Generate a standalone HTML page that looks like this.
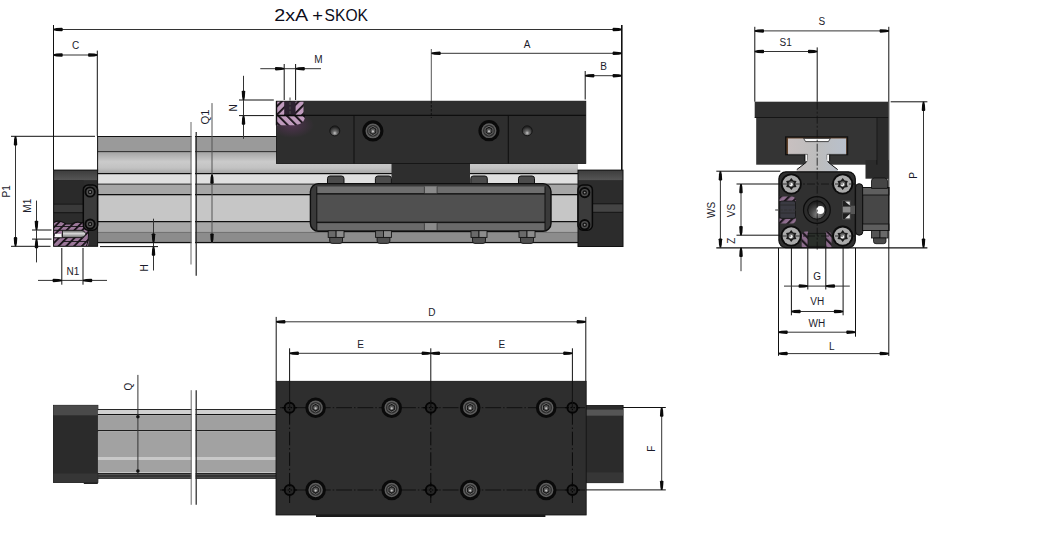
<!DOCTYPE html>
<html><head><meta charset="utf-8"><style>
html,body{margin:0;padding:0;background:#fff;}
body{width:1042px;height:534px;overflow:hidden;}
svg{display:block;font-family:"Liberation Sans",sans-serif;}
</style></head><body>
<svg width="1042" height="534" viewBox="0 0 1042 534">
<defs>
<pattern id="hat" patternUnits="userSpaceOnUse" width="6" height="6" patternTransform="rotate(45)">
<rect width="6" height="6" fill="#bf9bbd"/><rect width="1.9" height="6" fill="#1a121a"/></pattern>
<pattern id="hat2" patternUnits="userSpaceOnUse" width="6" height="6" patternTransform="rotate(-45)">
<rect width="6" height="6" fill="#bf9bbd"/><rect width="1.9" height="6" fill="#1a121a"/></pattern>
<radialGradient id="holeG" cx="0.5" cy="0.72" r="0.6"><stop offset="0" stop-color="#c8c8c8"/><stop offset="0.35" stop-color="#6a6a6a"/><stop offset="1" stop-color="#222"/></radialGradient>
<radialGradient id="coneG" cx="0.55" cy="0.75" r="0.75"><stop offset="0" stop-color="#8a8a8a"/><stop offset="0.45" stop-color="#4a4a4a"/><stop offset="1" stop-color="#161616"/></radialGradient>
<pattern id="hat4" patternUnits="userSpaceOnUse" width="6" height="6" patternTransform="rotate(45)">
<rect width="6" height="6" fill="#8e6e8e"/><rect width="2.2" height="6" fill="#201820"/></pattern>
<pattern id="hat5" patternUnits="userSpaceOnUse" width="6" height="6" patternTransform="rotate(-45)">
<rect width="6" height="6" fill="#8e6e8e"/><rect width="2.2" height="6" fill="#201820"/></pattern>
<pattern id="hat3" patternUnits="userSpaceOnUse" width="5.5" height="5.5" patternTransform="rotate(45)">
<rect width="5.5" height="5.5" fill="#9c789a"/><rect width="1.8" height="5.5" fill="#1a121a"/></pattern>
<linearGradient id="boreG" x1="0" y1="0" x2="0" y2="1"><stop offset="0" stop-color="#555"/><stop offset="0.45" stop-color="#d8d8d8"/><stop offset="1" stop-color="#6a6a6a"/></linearGradient>
<linearGradient id="band2" x1="0" y1="0" x2="0" y2="1"><stop offset="0" stop-color="#a6a6a6"/><stop offset="0.45" stop-color="#cbcbcb"/><stop offset="0.75" stop-color="#c2c2c2"/><stop offset="1" stop-color="#a8a8a8"/></linearGradient>
<linearGradient id="tG" x1="0" y1="0" x2="1" y2="0"><stop offset="0" stop-color="#c8c0c0"/><stop offset="0.5" stop-color="#bdbdbd"/><stop offset="1" stop-color="#b8c0cc"/></linearGradient>
<radialGradient id="glow"><stop offset="0" stop-color="#7a3a7a" stop-opacity="0.45"/><stop offset="1" stop-color="#7a3a7a" stop-opacity="0"/></radialGradient>
<clipPath id="carClip"><rect x="277" y="101.2" width="308" height="62"/></clipPath>
<linearGradient id="capTop" x1="0" y1="0" x2="0" y2="1"><stop offset="0" stop-color="#3c3c3c"/><stop offset="1" stop-color="#555"/></linearGradient>
</defs>
<rect width="1042" height="534" fill="#fff"/>
<rect x="97.5" y="136.0" width="480.5" height="1.0" fill="#111" />
<rect x="97.5" y="137" width="480.5" height="14.2" fill="#9a9a9a" />
<rect x="97.5" y="151.2" width="480.5" height="1.3" fill="#0e0e0e" />
<rect x="97.5" y="152.5" width="480.5" height="20.5" fill="url(#band2)" />
<rect x="97.5" y="173.0" width="480.5" height="1.5" fill="#0e0e0e" />
<rect x="97.5" y="174.5" width="480.5" height="9.1" fill="#e0e0e0" />
<rect x="97.5" y="183.6" width="480.5" height="1.2" fill="#1a1a1a" />
<rect x="97.5" y="184.8" width="480.5" height="9.2" fill="#a6a6a6" />
<rect x="97.5" y="194.0" width="480.5" height="1.6" fill="#0e0e0e" />
<rect x="97.5" y="195.6" width="480.5" height="25.4" fill="#c6c6c6" />
<rect x="97.5" y="221.0" width="480.5" height="1.6" fill="#0e0e0e" />
<rect x="97.5" y="222.6" width="480.5" height="9.2" fill="#a6a6a6" />
<rect x="97.5" y="231.8" width="480.5" height="1.0" fill="#4a4a4a" />
<rect x="97.5" y="232.8" width="480.5" height="9.0" fill="#8c8c8c" />
<rect x="97.5" y="241.8" width="480.5" height="1.4" fill="#0e0e0e" />
<line x1="97.6" y1="136" x2="97.6" y2="171" stroke="#111" stroke-width="1" />
<rect x="191.6" y="120" width="3.4" height="160" fill="#fff" />
<line x1="191.0" y1="122" x2="191.0" y2="264.5" stroke="#6a6a6a" stroke-width="1" />
<line x1="196.2" y1="132" x2="196.2" y2="275.7" stroke="#222" stroke-width="1.2" />
<rect x="53.6" y="170.1" width="44" height="76.2" fill="#2c2c2c" />
<rect x="53.6" y="170.1" width="44" height="10" fill="url(#capTop)" />
<rect x="53.6" y="180.1" width="30" height="24" fill="#2a2a2a" />
<line x1="53.6" y1="204.2" x2="83.3" y2="204.2" stroke="#141414" stroke-width="1" />
<rect x="53.6" y="204.7" width="30" height="8" fill="#3a3a3a" />
<line x1="53.6" y1="212.7" x2="83.3" y2="212.7" stroke="#141414" stroke-width="1" />
<path d="M54,246 V222.5 Q57,220.5 61,221.5 Q64,222.5 66,224 L72,224 Q76,221.5 80,222.5 L84,222.5 Q88,226 88.5,236 Q89,242 88,246 Z" fill="url(#hat3)"/>
<path d="M54,222.5 Q57,220.5 61,221.5 Q64,222.5 66,224 L72,224 Q76,221.5 80,222.5 L84,222.5" fill="none" stroke="#111" stroke-width="1.2"/>
<path d="M62.5,230.3 H81 Q84.5,230.3 86,233.9 Q84.5,237.6 81,237.6 H62.5 Z" fill="url(#boreG)" stroke="#151515" stroke-width="0.9"/>
<rect x="54.8" y="233.8" width="6.8" height="3.9" fill="#f6f6f6" />
<line x1="54" y1="230.3" x2="62.5" y2="230.3" stroke="#151515" stroke-width="1" />
<line x1="54" y1="237.8" x2="62.5" y2="237.8" stroke="#151515" stroke-width="1" />
<line x1="54" y1="226.5" x2="84" y2="226.5" stroke="#151515" stroke-width="0.9" />
<line x1="62" y1="241.5" x2="86" y2="241.5" stroke="#151515" stroke-width="0.9" />
<path d="M84,222.5 Q88.5,226 88.6,234 Q88.6,241 86.5,246" fill="none" stroke="#111" stroke-width="1"/>
<rect x="53.6" y="170.1" width="44" height="76.2" fill="none" stroke="#111" stroke-width="1" />
<rect x="83.3" y="184.9" width="14.3" height="45.3" fill="#3b3b3b" stroke="#080808" stroke-width="1.5" rx="5" />
<circle cx="90.1" cy="192" r="5.6" fill="#080808"/>
<circle cx="90.1" cy="192" r="3.6959999999999997" fill="#4e4e4e"/>
<circle cx="90.1" cy="192" r="2.2399999999999998" fill="#121212"/>
<circle cx="90.1" cy="192" r="0.952" fill="#8a8a8a"/>
<circle cx="90.1" cy="224.1" r="5.6" fill="#080808"/>
<circle cx="90.1" cy="224.1" r="3.6959999999999997" fill="#4e4e4e"/>
<circle cx="90.1" cy="224.1" r="2.2399999999999998" fill="#121212"/>
<circle cx="90.1" cy="224.1" r="0.952" fill="#8a8a8a"/>
<rect x="578" y="170.1" width="45" height="76.4" fill="#2c2c2c" />
<rect x="578" y="170.1" width="45" height="10" fill="url(#capTop)" />
<rect x="592.4" y="203.8" width="30.6" height="8.5" fill="#444" />
<line x1="592.4" y1="203.8" x2="623" y2="203.8" stroke="#151515" stroke-width="1" />
<line x1="592.4" y1="212.3" x2="623" y2="212.3" stroke="#151515" stroke-width="1" />
<rect x="578" y="170.1" width="45" height="76.4" fill="none" stroke="#111" stroke-width="1" />
<rect x="578" y="184.9" width="14.4" height="45.3" fill="#3b3b3b" stroke="#080808" stroke-width="1.5" rx="5" />
<circle cx="584.7" cy="192.6" r="5.6" fill="#080808"/>
<circle cx="584.7" cy="192.6" r="3.6959999999999997" fill="#4e4e4e"/>
<circle cx="584.7" cy="192.6" r="2.2399999999999998" fill="#121212"/>
<circle cx="584.7" cy="192.6" r="0.952" fill="#8a8a8a"/>
<circle cx="584.7" cy="224.7" r="5.6" fill="#080808"/>
<circle cx="584.7" cy="224.7" r="3.6959999999999997" fill="#4e4e4e"/>
<circle cx="584.7" cy="224.7" r="2.2399999999999998" fill="#121212"/>
<circle cx="584.7" cy="224.7" r="0.952" fill="#8a8a8a"/>
<rect x="276.5" y="101.2" width="309.3" height="62.3" fill="#2e2e2e" />
<rect x="391.5" y="160" width="78.5" height="25.3" fill="#2e2e2e" />
<line x1="276.5" y1="115.3" x2="585.8" y2="115.3" stroke="#0e0e0e" stroke-width="1.2" />
<line x1="354" y1="115.3" x2="354" y2="163.5" stroke="#0e0e0e" stroke-width="1" />
<line x1="508.3" y1="115.3" x2="508.3" y2="163.5" stroke="#0e0e0e" stroke-width="1" />
<ellipse cx="292" cy="125" rx="22" ry="13" fill="url(#glow)" clip-path="url(#carClip)"/>
<path d="M276.5,101.2 H303.5 V115.5 H276.5 Z" fill="url(#hat)"/>
<path d="M276.5,115.5 H305 V116 Q305,125.3 291,125.3 H276.5 Z" fill="url(#hat2)"/>
<rect x="284.2" y="101.2" width="11.4" height="14.2" fill="#2c2230" />
<line x1="290" y1="97.5" x2="290" y2="115" stroke="#4a4a4a" stroke-width="1" stroke-dasharray="3,1.5"/>
<line x1="276.5" y1="115.5" x2="305" y2="115.5" stroke="#0a0a0a" stroke-width="1.6" />
<line x1="276.5" y1="101.2" x2="276.5" y2="125.3" stroke="#0a0a0a" stroke-width="1.4" />
<rect x="276.5" y="101.2" width="309.3" height="62.3" fill="none" stroke="#111" stroke-width="0.8" />
<circle cx="334.8" cy="130.9" r="5" fill="url(#holeG)" stroke="#141414" stroke-width="1"/>
<circle cx="527.2" cy="130.8" r="5" fill="url(#holeG)" stroke="#141414" stroke-width="1"/>
<circle cx="372.9" cy="130.9" r="10.6" fill="#0a0a0a"/>
<circle cx="372.9" cy="130.9" r="7.419999999999999" fill="#5e5e5e"/>
<circle cx="372.9" cy="130.9" r="5.936" fill="#2e2e2e"/>
<polygon points="372.9,135.4 369.0,133.1 369.0,128.7 372.9,126.4 376.8,128.7 376.8,133.1" fill="#151515" stroke="#7a7a7a" stroke-width="0.8"/>
<circle cx="372.9" cy="130.9" r="2.544" fill="#5a5a5a"/>
<circle cx="372.9" cy="131.536" r="1.166" fill="#c0c0c0"/>
<circle cx="489" cy="130.7" r="10.6" fill="#0a0a0a"/>
<circle cx="489" cy="130.7" r="7.419999999999999" fill="#5e5e5e"/>
<circle cx="489" cy="130.7" r="5.936" fill="#2e2e2e"/>
<polygon points="489.0,135.2 485.1,132.9 485.1,128.5 489.0,126.2 492.9,128.5 492.9,132.9" fill="#151515" stroke="#7a7a7a" stroke-width="0.8"/>
<circle cx="489" cy="130.7" r="2.544" fill="#5a5a5a"/>
<circle cx="489" cy="131.33599999999998" r="1.166" fill="#c0c0c0"/>
<path d="M327.5,186 V178.5 Q327.5,176 330.0,176 H341.5 Q344,176 344,178.5 V186 Z" fill="#4c4c4c" stroke="#111" stroke-width="1"/>
<path d="M375.4,186 V178.5 Q375.4,176 377.9,176 H388.9 Q391.4,176 391.4,178.5 V186 Z" fill="#4c4c4c" stroke="#111" stroke-width="1"/>
<path d="M470.8,186 V178.5 Q470.8,176 473.3,176 H484.8 Q487.3,176 487.3,178.5 V186 Z" fill="#4c4c4c" stroke="#111" stroke-width="1"/>
<path d="M518.5,186 V178.5 Q518.5,176 521.0,176 H532.0 Q534.5,176 534.5,178.5 V186 Z" fill="#4c4c4c" stroke="#111" stroke-width="1"/>
<rect x="310.4" y="183.6" width="240.6" height="47.8" fill="#3a3a3a" stroke="#0e0e0e" stroke-width="1.4" rx="8" />
<rect x="316.8" y="186.5" width="228.2" height="6.7" fill="#6e6e6e" />
<rect x="316.8" y="193.2" width="228.2" height="1.5" fill="#151515" />
<rect x="316.8" y="194.7" width="228.2" height="27" fill="#505050" />
<rect x="316.8" y="221.7" width="228.2" height="1.5" fill="#151515" />
<rect x="316.8" y="223.2" width="228.2" height="6.8" fill="#6a6a6a" />
<rect x="424.4" y="186.5" width="12.7" height="6.7" fill="#8a8a8a" />
<rect x="424.4" y="223.2" width="12.7" height="6.8" fill="#8a8a8a" />
<line x1="424.4" y1="186.5" x2="424.4" y2="193.2" stroke="#333" stroke-width="0.8" />
<line x1="437.1" y1="186.5" x2="437.1" y2="193.2" stroke="#333" stroke-width="0.8" />
<line x1="424.4" y1="223.2" x2="424.4" y2="230" stroke="#333" stroke-width="0.8" />
<line x1="437.1" y1="223.2" x2="437.1" y2="230" stroke="#333" stroke-width="0.8" />
<line x1="316.8" y1="186.5" x2="316.8" y2="230" stroke="#111" stroke-width="1" />
<line x1="545" y1="186.5" x2="545" y2="230" stroke="#111" stroke-width="1" />
<path d="M329.7,237.4 V241 Q329.7,243.4 332.2,243.4 H340 Q342.5,243.4 342.5,241 V237.4 Z" fill="#505050" stroke="#151515" stroke-width="0.9"/>
<rect x="328.2" y="230.7" width="7.900000000000034" height="6.7" fill="#6a6a6a" stroke="#151515" stroke-width="0.9" />
<rect x="336.1" y="230.7" width="7.899999999999977" height="6.7" fill="#8c8c8c" stroke="#151515" stroke-width="0.9" />
<path d="M377.1,237.4 V241 Q377.1,243.4 379.6,243.4 H387.4 Q389.9,243.4 389.9,241 V237.4 Z" fill="#505050" stroke="#151515" stroke-width="0.9"/>
<rect x="375.6" y="230.7" width="7.899999999999977" height="6.7" fill="#6a6a6a" stroke="#151515" stroke-width="0.9" />
<rect x="383.5" y="230.7" width="7.899999999999977" height="6.7" fill="#8c8c8c" stroke="#151515" stroke-width="0.9" />
<path d="M472.5,237.4 V241 Q472.5,243.4 475,243.4 H483 Q485.5,243.4 485.5,241 V237.4 Z" fill="#505050" stroke="#151515" stroke-width="0.9"/>
<rect x="471" y="230.7" width="8.0" height="6.7" fill="#6a6a6a" stroke="#151515" stroke-width="0.9" />
<rect x="479.0" y="230.7" width="8.0" height="6.7" fill="#8c8c8c" stroke="#151515" stroke-width="0.9" />
<path d="M520.5,237.4 V241 Q520.5,243.4 523,243.4 H531 Q533.5,243.4 533.5,241 V237.4 Z" fill="#505050" stroke="#151515" stroke-width="0.9"/>
<rect x="519" y="230.7" width="8.0" height="6.7" fill="#6a6a6a" stroke="#151515" stroke-width="0.9" />
<rect x="527.0" y="230.7" width="8.0" height="6.7" fill="#8c8c8c" stroke="#151515" stroke-width="0.9" />
<line x1="53.5" y1="25" x2="53.5" y2="170" stroke="#111" stroke-width="1" />
<line x1="621.8" y1="25" x2="621.8" y2="170" stroke="#111" stroke-width="1.6" />
<line x1="53.5" y1="29.5" x2="621.8" y2="29.5" stroke="#333" stroke-width="1" />
<polygon points="53.50,28.75 56.50,28.10 61.90,27.75 62.70,28.35 62.70,30.65 61.90,31.25 56.50,30.90 53.50,30.25" fill="#0a0a0a"/>
<polygon points="621.80,28.75 618.80,28.10 613.40,27.75 612.60,28.35 612.60,30.65 613.40,31.25 618.80,30.90 621.80,30.25" fill="#0a0a0a"/>
<text x="274.2" y="20.9" font-size="15.6" fill="#0d0d1a" textLength="34" lengthAdjust="spacingAndGlyphs">2xA</text>
<text x="312.2" y="21.2" font-size="16.8" fill="#0d0d1a" textLength="10.8" lengthAdjust="spacingAndGlyphs">+</text>
<text x="324.6" y="20.9" font-size="15.6" fill="#0d0d1a" textLength="43.4" lengthAdjust="spacingAndGlyphs">SKOK</text>
<line x1="97.3" y1="50.6" x2="97.3" y2="136" stroke="#111" stroke-width="1" />
<line x1="53.5" y1="55" x2="97.3" y2="55" stroke="#333" stroke-width="1" />
<polygon points="53.50,54.25 56.50,53.60 61.90,53.25 62.70,53.85 62.70,56.15 61.90,56.75 56.50,56.40 53.50,55.75" fill="#0a0a0a"/>
<polygon points="97.30,54.25 94.30,53.60 88.90,53.25 88.10,53.85 88.10,56.15 88.90,56.75 94.30,56.40 97.30,55.75" fill="#0a0a0a"/>
<text x="75.6" y="45.3" font-size="10" fill="#1b1b2b" text-anchor="middle" dominant-baseline="central" >C</text>
<line x1="431.3" y1="49" x2="431.3" y2="101" stroke="#555" stroke-width="1" />
<line x1="431.3" y1="101" x2="431.3" y2="118" stroke="#111" stroke-width="1" stroke-dasharray="2.5,1.5"/>
<line x1="431.5" y1="53.3" x2="621.8" y2="53.3" stroke="#333" stroke-width="1" />
<polygon points="431.50,52.55 434.50,51.90 439.90,51.55 440.70,52.15 440.70,54.45 439.90,55.05 434.50,54.70 431.50,54.05" fill="#0a0a0a"/>
<polygon points="621.80,52.55 618.80,51.90 613.40,51.55 612.60,52.15 612.60,54.45 613.40,55.05 618.80,54.70 621.80,54.05" fill="#0a0a0a"/>
<text x="527.2" y="44.3" font-size="10" fill="#1b1b2b" text-anchor="middle" dominant-baseline="central" >A</text>
<line x1="585.2" y1="71" x2="585.2" y2="99.5" stroke="#111" stroke-width="1" />
<line x1="585.2" y1="75.7" x2="621.8" y2="75.7" stroke="#333" stroke-width="1" />
<polygon points="585.20,74.95 588.20,74.30 593.60,73.95 594.40,74.55 594.40,76.85 593.60,77.45 588.20,77.10 585.20,76.45" fill="#0a0a0a"/>
<polygon points="621.80,74.95 618.80,74.30 613.40,73.95 612.60,74.55 612.60,76.85 613.40,77.45 618.80,77.10 621.80,76.45" fill="#0a0a0a"/>
<text x="603.6" y="66.3" font-size="10" fill="#1b1b2b" text-anchor="middle" dominant-baseline="central" >B</text>
<line x1="284.2" y1="64" x2="284.2" y2="100" stroke="#111" stroke-width="1" />
<line x1="295.6" y1="64" x2="295.6" y2="100" stroke="#111" stroke-width="1" />
<line x1="260.3" y1="68.7" x2="321" y2="68.7" stroke="#333" stroke-width="1" />
<polygon points="284.20,67.95 281.20,67.30 275.80,66.95 275.00,67.55 275.00,69.85 275.80,70.45 281.20,70.10 284.20,69.45" fill="#0a0a0a"/>
<polygon points="295.60,67.95 298.60,67.30 304.00,66.95 304.80,67.55 304.80,69.85 304.00,70.45 298.60,70.10 295.60,69.45" fill="#0a0a0a"/>
<text x="318.3" y="59.4" font-size="10" fill="#1b1b2b" text-anchor="middle" dominant-baseline="central" >M</text>
<line x1="239" y1="100" x2="273.8" y2="100" stroke="#111" stroke-width="1" />
<line x1="239" y1="115.6" x2="273.8" y2="115.6" stroke="#111" stroke-width="1" />
<line x1="243.5" y1="75.8" x2="243.5" y2="138.8" stroke="#333" stroke-width="1" />
<polygon points="242.75,100.00 242.10,97.00 241.75,91.60 242.35,90.80 244.65,90.80 245.25,91.60 244.90,97.00 244.25,100.00" fill="#0a0a0a"/>
<polygon points="242.75,115.60 242.10,118.60 241.75,124.00 242.35,124.80 244.65,124.80 245.25,124.00 244.90,118.60 244.25,115.60" fill="#0a0a0a"/>
<text x="0" y="0" font-size="10" fill="#1b1b2b" text-anchor="middle" dominant-baseline="central" transform="translate(233.4,107.8) rotate(-90)" >N</text>
<line x1="212" y1="103.1" x2="212" y2="243" stroke="#555" stroke-width="1" />
<polygon points="211.25,174.50 210.60,177.50 210.25,182.90 210.85,183.70 213.15,183.70 213.75,182.90 213.40,177.50 212.75,174.50" fill="#0a0a0a"/>
<polygon points="211.25,242.60 210.60,239.60 210.25,234.20 210.85,233.40 213.15,233.40 213.75,234.20 213.40,239.60 212.75,242.60" fill="#0a0a0a"/>
<text x="0" y="0" font-size="10.6" fill="#1b1b2b" text-anchor="middle" dominant-baseline="central" transform="translate(204.6,117.1) rotate(-90)"  textLength="15" lengthAdjust="spacingAndGlyphs">Q1</text>
<line x1="11" y1="136.3" x2="95" y2="136.3" stroke="#111" stroke-width="1" />
<line x1="11" y1="246.3" x2="50.5" y2="246.3" stroke="#111" stroke-width="1" />
<line x1="15.5" y1="136.3" x2="15.5" y2="246.3" stroke="#333" stroke-width="1" />
<polygon points="14.75,136.30 14.10,139.30 13.75,144.70 14.35,145.50 16.65,145.50 17.25,144.70 16.90,139.30 16.25,136.30" fill="#0a0a0a"/>
<polygon points="14.75,246.30 14.10,243.30 13.75,237.90 14.35,237.10 16.65,237.10 17.25,237.90 16.90,243.30 16.25,246.30" fill="#0a0a0a"/>
<text x="0" y="0" font-size="10" fill="#1b1b2b" text-anchor="middle" dominant-baseline="central" transform="translate(6.2,191.3) rotate(-90)" >P1</text>
<line x1="32" y1="230" x2="51.5" y2="230" stroke="#111" stroke-width="1" />
<line x1="32" y1="239.1" x2="51.5" y2="239.1" stroke="#111" stroke-width="1" />
<line x1="36.5" y1="200.6" x2="36.5" y2="262.4" stroke="#333" stroke-width="1" />
<polygon points="35.75,230.00 35.10,227.00 34.75,221.60 35.35,220.80 37.65,220.80 38.25,221.60 37.90,227.00 37.25,230.00" fill="#0a0a0a"/>
<polygon points="35.75,239.10 35.10,242.10 34.75,247.50 35.35,248.30 37.65,248.30 38.25,247.50 37.90,242.10 37.25,239.10" fill="#0a0a0a"/>
<text x="0" y="0" font-size="10" fill="#1b1b2b" text-anchor="middle" dominant-baseline="central" transform="translate(27.8,205.7) rotate(-90)" >M1</text>
<line x1="61.8" y1="248" x2="61.8" y2="284.7" stroke="#111" stroke-width="1" />
<line x1="83" y1="248" x2="83" y2="284.7" stroke="#111" stroke-width="1" />
<line x1="38" y1="280.4" x2="107" y2="280.4" stroke="#333" stroke-width="1" />
<polygon points="61.80,279.65 58.80,279.00 53.40,278.65 52.60,279.25 52.60,281.55 53.40,282.15 58.80,281.80 61.80,281.15" fill="#0a0a0a"/>
<polygon points="83.00,279.65 86.00,279.00 91.40,278.65 92.20,279.25 92.20,281.55 91.40,282.15 86.00,281.80 83.00,281.15" fill="#0a0a0a"/>
<text x="73" y="271.2" font-size="10" fill="#1b1b2b" text-anchor="middle" dominant-baseline="central" >N1</text>
<line x1="100" y1="246.6" x2="158" y2="246.6" stroke="#111" stroke-width="1" />
<line x1="153.5" y1="218.7" x2="153.5" y2="270.5" stroke="#333" stroke-width="1" />
<polygon points="152.75,242.70 152.10,239.70 151.75,234.30 152.35,233.50 154.65,233.50 155.25,234.30 154.90,239.70 154.25,242.70" fill="#0a0a0a"/>
<polygon points="152.75,246.60 152.10,249.60 151.75,255.00 152.35,255.80 154.65,255.80 155.25,255.00 154.90,249.60 154.25,246.60" fill="#0a0a0a"/>
<text x="0" y="0" font-size="10" fill="#1b1b2b" text-anchor="middle" dominant-baseline="central" transform="translate(144.2,267.8) rotate(-90)" >H</text>
<rect x="754.7" y="101.7" width="133.4" height="15.8" fill="#2f2f2f" />
<rect x="756.2" y="117.5" width="120.7" height="47.2" fill="#343434" />
<rect x="876.9" y="117.5" width="11.2" height="61.2" fill="#2b2b2b" />
<rect x="865.5" y="160" width="23" height="18.7" fill="#2b2b2b" />
<line x1="754.7" y1="117.5" x2="888.1" y2="117.5" stroke="#151515" stroke-width="1" />
<line x1="876.9" y1="117.5" x2="876.9" y2="164.7" stroke="#151515" stroke-width="1" />
<rect x="785" y="136.3" width="63.2" height="19" fill="#111" />
<rect x="786.5" y="137.6" width="60.2" height="16.4" fill="#5e4028" />
<path d="M796.8,171.8 V169.6 L806,162.5 Q807.2,161.5 807.2,159 V154.4 H788 V138.4 H846.1 V154.4 H827.3 V159 Q827.3,161.5 828.5,162.5 L837.7,169.6 V171.8 Z" fill="url(#tG)"/>
<path d="M796.8,169.6 L806,162.5 Q807.2,161.5 807.2,159 V154.4 M827.3,154.4 V159 Q827.3,161.5 828.5,162.5 L837.7,169.6" fill="none" stroke="#111" stroke-width="1"/>
<path d="M788,154.4 H807.2 M827.3,154.4 H846.1" stroke="#333" stroke-width="0.8"/>
<path d="M803.6,138.4 L805.6,141.6 H828.4 L830.4,138.4 Z" fill="#fcfcfc" stroke="#222" stroke-width="0.8"/>
<rect x="805.2" y="154.6" width="2.2" height="6.6" fill="#f4f4f4" />
<rect x="827.1" y="154.6" width="2.2" height="6.6" fill="#f4f4f4" />
<line x1="804.8" y1="154.6" x2="804.8" y2="161" stroke="#111" stroke-width="0.9" />
<line x1="829.7" y1="154.6" x2="829.7" y2="161" stroke="#111" stroke-width="0.9" />
<rect x="778.9" y="171.8" width="76.4" height="75.8" fill="#303030" stroke="#0c0c0c" stroke-width="1.2" rx="7" />
<path d="M779.5,201 V196.4 H792 Q796,197 796,201 Z" fill="url(#hat4)"/>
<path d="M779.5,218.4 V223.6 H792 Q796,223 796,218.4 Z" fill="url(#hat4)"/>
<rect x="779.8" y="201" width="15.7" height="17.4" fill="#3a3a42" stroke="#151515" stroke-width="0.8" rx="2" />
<line x1="780" y1="205" x2="795" y2="205" stroke="#2a2a2a" stroke-width="0.8" />
<line x1="780" y1="213" x2="795" y2="213" stroke="#2a2a2a" stroke-width="0.8" />
<line x1="775.2" y1="210" x2="796" y2="210" stroke="#333" stroke-width="1" stroke-dasharray="3,1.5"/>
<path d="M801.7,247.4 V236 Q801.7,231.6 806,231.6 H808 V247.4 Z" fill="url(#hat5)"/>
<path d="M825.8,247.4 V231.6 H827 Q831.5,231.6 831.5,236 V247.4 Z" fill="url(#hat5)"/>
<rect x="808" y="233.3" width="17.8" height="13" fill="#2a2f2a" stroke="#151515" stroke-width="0.8" />
<circle cx="791.3" cy="184" r="10.6" fill="#0c0c0c"/>
<circle cx="791.3" cy="184" r="8.7" fill="#aaaaaa"/>
<polygon points="791.30,178.00 793.25,180.62 796.50,181.00 795.20,184.00 796.50,187.00 793.25,187.38 791.30,190.00 789.35,187.38 786.10,187.00 787.40,184.00 786.10,181.00 789.35,180.62" fill="#1a1a1a"/>
<circle cx="791.3" cy="184" r="2.8" fill="#6a6a6a"/>
<circle cx="791.0" cy="184.6" r="1.8" fill="#f4f4f4"/>
<circle cx="842.7" cy="184" r="10.6" fill="#0c0c0c"/>
<circle cx="842.7" cy="184" r="8.7" fill="#aaaaaa"/>
<polygon points="842.70,178.00 844.65,180.62 847.90,181.00 846.60,184.00 847.90,187.00 844.65,187.38 842.70,190.00 840.75,187.38 837.50,187.00 838.80,184.00 837.50,181.00 840.75,180.62" fill="#1a1a1a"/>
<circle cx="842.7" cy="184" r="2.8" fill="#6a6a6a"/>
<circle cx="842.4000000000001" cy="184.6" r="1.8" fill="#f4f4f4"/>
<circle cx="791.2" cy="236" r="10.6" fill="#0c0c0c"/>
<circle cx="791.2" cy="236" r="8.7" fill="#aaaaaa"/>
<polygon points="791.20,230.00 793.15,232.62 796.40,233.00 795.10,236.00 796.40,239.00 793.15,239.38 791.20,242.00 789.25,239.38 786.00,239.00 787.30,236.00 786.00,233.00 789.25,232.62" fill="#1a1a1a"/>
<circle cx="791.2" cy="236" r="2.8" fill="#6a6a6a"/>
<circle cx="790.9000000000001" cy="236.6" r="1.8" fill="#f4f4f4"/>
<circle cx="842.7" cy="236.1" r="10.6" fill="#0c0c0c"/>
<circle cx="842.7" cy="236.1" r="8.7" fill="#aaaaaa"/>
<polygon points="842.70,230.10 844.65,232.72 847.90,233.10 846.60,236.10 847.90,239.10 844.65,239.48 842.70,242.10 840.75,239.48 837.50,239.10 838.80,236.10 837.50,233.10 840.75,232.72" fill="#1a1a1a"/>
<circle cx="842.7" cy="236.1" r="2.8" fill="#6a6a6a"/>
<circle cx="842.4000000000001" cy="236.7" r="1.8" fill="#f4f4f4"/>
<circle cx="816.9" cy="210" r="13.4" fill="#2c2c2c" stroke="#0c0c0c" stroke-width="1.2"/>
<circle cx="816.9" cy="210" r="9.2" fill="url(#coneG)" stroke="#0c0c0c" stroke-width="1"/>
<circle cx="820.4" cy="210" r="3.9" fill="#fdfdfd"/>
<rect x="842.7" y="200.7" width="7.9" height="5.6" fill="#1e1e1e" stroke="#555" stroke-width="0.6" />
<path d="M845,201.5 L849.8,201.5 L849.8,205.5 Z" fill="#ddd"/>
<rect x="842.7" y="206.9" width="7.9" height="5.6" fill="#8a8a8a" />
<rect x="842.7" y="213" width="7.9" height="6.2" fill="#1e1e1e" stroke="#555" stroke-width="0.6" />
<path d="M845,218.6 L849.8,218.6 L849.8,214 Z" fill="#ddd"/>
<rect x="851" y="205.7" width="4" height="8.3" fill="#555" />
<rect x="855.6" y="183.7" width="7.2" height="51.5" fill="#353535" stroke="#0c0c0c" stroke-width="1" rx="3.5" />
<rect x="862.7" y="187.5" width="26.2" height="43" fill="#474747" stroke="#0c0c0c" stroke-width="1" />
<rect x="862.7" y="187.5" width="26.2" height="7.5" fill="#5e5e5e" stroke="#0c0c0c" stroke-width="0.8" />
<rect x="862.7" y="224" width="26.2" height="6.5" fill="#5e5e5e" stroke="#0c0c0c" stroke-width="0.8" />
<path d="M871.5,188.4 V181 Q871.5,178 874.5,178 H884.5 Q887.5,178 887.5,181 V188.4 Z" fill="#454545" stroke="#0c0c0c" stroke-width="0.8"/>
<rect x="871.5" y="230.5" width="8.5" height="7.5" fill="#555" stroke="#111" stroke-width="0.8" />
<rect x="880" y="230.5" width="8" height="7.5" fill="#6a6a6a" stroke="#111" stroke-width="0.8" />
<path d="M873.5,238 V241.5 Q873.5,243.7 876,243.7 H883.5 Q886,243.7 886,241.5 V238 Z" fill="#4a4a4a" stroke="#111" stroke-width="0.8"/>
<line x1="779" y1="184" x2="855" y2="184" stroke="#111" stroke-width="0.8" stroke-dasharray="8,2,2,2"/>
<line x1="779" y1="236" x2="855" y2="236" stroke="#111" stroke-width="0.8" stroke-dasharray="8,2,2,2"/>
<line x1="817.2" y1="47.4" x2="817.2" y2="101.7" stroke="#111" stroke-width="1" />
<line x1="817.2" y1="101.7" x2="817.2" y2="250" stroke="#111" stroke-width="0.8" stroke-dasharray="8,2,2,2"/>
<line x1="754.8" y1="26.8" x2="754.8" y2="101.7" stroke="#111" stroke-width="1" />
<line x1="888.8" y1="26.8" x2="888.8" y2="356" stroke="#111" stroke-width="1" />
<line x1="754.8" y1="30.9" x2="888.8" y2="30.9" stroke="#333" stroke-width="1" />
<polygon points="754.80,30.15 757.80,29.50 763.20,29.15 764.00,29.75 764.00,32.05 763.20,32.65 757.80,32.30 754.80,31.65" fill="#0a0a0a"/>
<polygon points="888.80,30.15 885.80,29.50 880.40,29.15 879.60,29.75 879.60,32.05 880.40,32.65 885.80,32.30 888.80,31.65" fill="#0a0a0a"/>
<text x="821.8" y="21.2" font-size="10" fill="#1b1b2b" text-anchor="middle" dominant-baseline="central" >S</text>
<line x1="754.8" y1="51.5" x2="817.2" y2="51.5" stroke="#333" stroke-width="1" />
<polygon points="754.80,50.75 757.80,50.10 763.20,49.75 764.00,50.35 764.00,52.65 763.20,53.25 757.80,52.90 754.80,52.25" fill="#0a0a0a"/>
<polygon points="817.20,50.75 814.20,50.10 808.80,49.75 808.00,50.35 808.00,52.65 808.80,53.25 814.20,52.90 817.20,52.25" fill="#0a0a0a"/>
<text x="785.7" y="42.8" font-size="10" fill="#1b1b2b" text-anchor="middle" dominant-baseline="central" >S1</text>
<line x1="890.7" y1="101.8" x2="927.4" y2="101.8" stroke="#111" stroke-width="1" />
<line x1="716.3" y1="247.8" x2="927.4" y2="247.8" stroke="#111" stroke-width="1.2" />
<line x1="923.5" y1="101.8" x2="923.5" y2="247.8" stroke="#333" stroke-width="1" />
<polygon points="922.75,101.80 922.10,104.80 921.75,110.20 922.35,111.00 924.65,111.00 925.25,110.20 924.90,104.80 924.25,101.80" fill="#0a0a0a"/>
<polygon points="922.75,247.80 922.10,244.80 921.75,239.40 922.35,238.60 924.65,238.60 925.25,239.40 924.90,244.80 924.25,247.80" fill="#0a0a0a"/>
<text x="0" y="0" font-size="10" fill="#1b1b2b" text-anchor="middle" dominant-baseline="central" transform="translate(913.7,175.4) rotate(-90)" >P</text>
<line x1="716.3" y1="171.2" x2="780.3" y2="171.2" stroke="#111" stroke-width="1" />
<line x1="720.4" y1="171.2" x2="720.4" y2="247.6" stroke="#333" stroke-width="1" />
<polygon points="719.65,171.20 719.00,174.20 718.65,179.60 719.25,180.40 721.55,180.40 722.15,179.60 721.80,174.20 721.15,171.20" fill="#0a0a0a"/>
<polygon points="719.65,247.60 719.00,244.60 718.65,239.20 719.25,238.40 721.55,238.40 722.15,239.20 721.80,244.60 721.15,247.60" fill="#0a0a0a"/>
<text x="0" y="0" font-size="10" fill="#1b1b2b" text-anchor="middle" dominant-baseline="central" transform="translate(711.2,209.9) rotate(-90)" >WS</text>
<line x1="736.5" y1="184" x2="779.2" y2="184" stroke="#111" stroke-width="1" />
<line x1="736.5" y1="235.2" x2="780" y2="235.2" stroke="#111" stroke-width="1" />
<line x1="741" y1="184" x2="741" y2="235.2" stroke="#333" stroke-width="1" />
<polygon points="740.25,184.00 739.60,187.00 739.25,192.40 739.85,193.20 742.15,193.20 742.75,192.40 742.40,187.00 741.75,184.00" fill="#0a0a0a"/>
<polygon points="740.25,235.20 739.60,232.20 739.25,226.80 739.85,226.00 742.15,226.00 742.75,226.80 742.40,232.20 741.75,235.20" fill="#0a0a0a"/>
<line x1="741" y1="247.6" x2="741" y2="271.2" stroke="#333" stroke-width="1" />
<polygon points="740.25,247.80 739.60,250.80 739.25,256.20 739.85,257.00 742.15,257.00 742.75,256.20 742.40,250.80 741.75,247.80" fill="#0a0a0a"/>
<text x="0" y="0" font-size="10" fill="#1b1b2b" text-anchor="middle" dominant-baseline="central" transform="translate(731.4,210.5) rotate(-90)" >VS</text>
<text x="0" y="0" font-size="10" fill="#1b1b2b" text-anchor="middle" dominant-baseline="central" transform="translate(731,240.8) rotate(-90)" >Z</text>
<line x1="778.5" y1="248" x2="778.5" y2="355.8" stroke="#111" stroke-width="1" />
<line x1="791.4" y1="248" x2="791.4" y2="315.3" stroke="#111" stroke-width="1" />
<line x1="807.8" y1="248" x2="807.8" y2="289.5" stroke="#111" stroke-width="1" />
<line x1="825.8" y1="248" x2="825.8" y2="289.5" stroke="#111" stroke-width="1" />
<line x1="843.1" y1="248" x2="843.1" y2="315.3" stroke="#111" stroke-width="1" />
<line x1="855.5" y1="248" x2="855.5" y2="336.7" stroke="#111" stroke-width="1" />
<line x1="784" y1="286.1" x2="849.8" y2="286.1" stroke="#333" stroke-width="1" />
<polygon points="807.80,285.35 804.80,284.70 799.40,284.35 798.60,284.95 798.60,287.25 799.40,287.85 804.80,287.50 807.80,286.85" fill="#0a0a0a"/>
<polygon points="825.80,285.35 828.80,284.70 834.20,284.35 835.00,284.95 835.00,287.25 834.20,287.85 828.80,287.50 825.80,286.85" fill="#0a0a0a"/>
<text x="817.2" y="276" font-size="10" fill="#1b1b2b" text-anchor="middle" dominant-baseline="central" >G</text>
<line x1="791.4" y1="311.5" x2="843.1" y2="311.5" stroke="#333" stroke-width="1" />
<polygon points="791.40,310.75 794.40,310.10 799.80,309.75 800.60,310.35 800.60,312.65 799.80,313.25 794.40,312.90 791.40,312.25" fill="#0a0a0a"/>
<polygon points="843.10,310.75 840.10,310.10 834.70,309.75 833.90,310.35 833.90,312.65 834.70,313.25 840.10,312.90 843.10,312.25" fill="#0a0a0a"/>
<text x="817.2" y="301.2" font-size="10" fill="#1b1b2b" text-anchor="middle" dominant-baseline="central" >VH</text>
<line x1="778.5" y1="332.2" x2="855.5" y2="332.2" stroke="#333" stroke-width="1" />
<polygon points="778.50,331.45 781.50,330.80 786.90,330.45 787.70,331.05 787.70,333.35 786.90,333.95 781.50,333.60 778.50,332.95" fill="#0a0a0a"/>
<polygon points="855.50,331.45 852.50,330.80 847.10,330.45 846.30,331.05 846.30,333.35 847.10,333.95 852.50,333.60 855.50,332.95" fill="#0a0a0a"/>
<text x="816.8" y="323.7" font-size="10" fill="#1b1b2b" text-anchor="middle" dominant-baseline="central" >WH</text>
<line x1="778.5" y1="353.6" x2="888.8" y2="353.6" stroke="#333" stroke-width="1" />
<polygon points="778.50,352.85 781.50,352.20 786.90,351.85 787.70,352.45 787.70,354.75 786.90,355.35 781.50,355.00 778.50,354.35" fill="#0a0a0a"/>
<polygon points="888.80,352.85 885.80,352.20 880.40,351.85 879.60,352.45 879.60,354.75 880.40,355.35 885.80,355.00 888.80,354.35" fill="#0a0a0a"/>
<text x="831.9" y="346.2" font-size="10" fill="#1b1b2b" text-anchor="middle" dominant-baseline="central" >L</text>
<rect x="53.4" y="405.3" width="44.5" height="77.2" fill="#2b2b2b" stroke="#111" stroke-width="0.8" />
<rect x="53.4" y="405.3" width="44.5" height="10" fill="#4a4a4a" />
<rect x="53.4" y="473.5" width="44.5" height="9" fill="#363636" />
<rect x="83.8" y="482.5" width="14" height="1.5" fill="#222" />
<rect x="97.9" y="409.1" width="178.9" height="1.1" fill="#111" />
<rect x="97.9" y="410.2" width="178.9" height="3.8" fill="#d0d0d0" />
<rect x="97.9" y="414" width="178.9" height="1.1" fill="#111" />
<rect x="97.9" y="415.1" width="178.9" height="14.9" fill="#a0a0a0" />
<rect x="97.9" y="430" width="178.9" height="1.3" fill="#1e1e1e" />
<rect x="97.9" y="431.3" width="178.9" height="25.7" fill="#a2a2a2" />
<rect x="97.9" y="457" width="178.9" height="3" fill="#c8c8c8" />
<rect x="97.9" y="460" width="178.9" height="12.4" fill="#a2a2a2" />
<rect x="97.9" y="472.4" width="178.9" height="0.7" fill="#bbb" />
<rect x="97.9" y="473.1" width="178.9" height="1.1" fill="#0e0e0e" />
<rect x="97.9" y="474.2" width="178.9" height="3.6" fill="#333" />
<rect x="97.9" y="477.8" width="178.9" height="1.0" fill="#0e0e0e" />
<rect x="191.7" y="405" width="3.8" height="78" fill="#fff" />
<line x1="191.2" y1="390.2" x2="191.2" y2="504.8" stroke="#6a6a6a" stroke-width="1" />
<line x1="196.2" y1="390.2" x2="196.2" y2="504.8" stroke="#222" stroke-width="1.2" />
<rect x="585.4" y="405.4" width="37.7" height="77.3" fill="#2b2b2b" stroke="#111" stroke-width="0.8" />
<rect x="585.4" y="409.6" width="37.7" height="6.1" fill="#555" />
<rect x="585.4" y="472.4" width="37.7" height="10.3" fill="#363636" />
<rect x="276" y="381.3" width="310.2" height="133.7" fill="#2e2e2e" stroke="#111" stroke-width="0.8" />
<rect x="316" y="515" width="229.4" height="2" fill="#1a1a1a" />
<line x1="289.6" y1="407.5" x2="289.6" y2="503" stroke="#0a0a0a" stroke-width="1" stroke-dasharray="13.6,2.8,1.5,2.7" stroke-dashoffset="17"/>
<line x1="430.8" y1="407.5" x2="430.8" y2="503" stroke="#0a0a0a" stroke-width="1" stroke-dasharray="13.6,2.8,1.5,2.7" stroke-dashoffset="17"/>
<line x1="572.4" y1="407.5" x2="572.4" y2="503" stroke="#0a0a0a" stroke-width="1" stroke-dasharray="13.6,2.8,1.5,2.7" stroke-dashoffset="17"/>
<line x1="280" y1="407.7" x2="585" y2="407.7" stroke="#111" stroke-width="1" stroke-dasharray="15.8,2,1.5,2" stroke-dashoffset="7.7"/>
<line x1="280" y1="490" x2="585" y2="490" stroke="#111" stroke-width="1" stroke-dasharray="15.8,2,1.5,2" stroke-dashoffset="7.7"/>
<circle cx="289.6" cy="407.7" r="5" fill="#262626" stroke="#050505" stroke-width="1.9"/>
<line x1="282.1" y1="407.7" x2="284.6" y2="407.7" stroke="#050505" stroke-width="1.2" />
<line x1="294.6" y1="407.7" x2="297.1" y2="407.7" stroke="#050505" stroke-width="1.2" />
<line x1="289.6" y1="400.2" x2="289.6" y2="402.7" stroke="#050505" stroke-width="1.2" />
<line x1="289.6" y1="412.7" x2="289.6" y2="415.2" stroke="#050505" stroke-width="1.2" />
<line x1="284.6" y1="407.7" x2="294.6" y2="407.7" stroke="#050505" stroke-width="1.2" stroke-dasharray="1.5,1.5"/>
<line x1="289.6" y1="402.7" x2="289.6" y2="412.7" stroke="#050505" stroke-width="1.2" stroke-dasharray="1.5,1.5"/>
<circle cx="430.8" cy="407.7" r="5" fill="#262626" stroke="#050505" stroke-width="1.9"/>
<line x1="423.3" y1="407.7" x2="425.8" y2="407.7" stroke="#050505" stroke-width="1.2" />
<line x1="435.8" y1="407.7" x2="438.3" y2="407.7" stroke="#050505" stroke-width="1.2" />
<line x1="430.8" y1="400.2" x2="430.8" y2="402.7" stroke="#050505" stroke-width="1.2" />
<line x1="430.8" y1="412.7" x2="430.8" y2="415.2" stroke="#050505" stroke-width="1.2" />
<line x1="425.8" y1="407.7" x2="435.8" y2="407.7" stroke="#050505" stroke-width="1.2" stroke-dasharray="1.5,1.5"/>
<line x1="430.8" y1="402.7" x2="430.8" y2="412.7" stroke="#050505" stroke-width="1.2" stroke-dasharray="1.5,1.5"/>
<circle cx="572.4" cy="407.7" r="5" fill="#262626" stroke="#050505" stroke-width="1.9"/>
<line x1="564.9" y1="407.7" x2="567.4" y2="407.7" stroke="#050505" stroke-width="1.2" />
<line x1="577.4" y1="407.7" x2="579.9" y2="407.7" stroke="#050505" stroke-width="1.2" />
<line x1="572.4" y1="400.2" x2="572.4" y2="402.7" stroke="#050505" stroke-width="1.2" />
<line x1="572.4" y1="412.7" x2="572.4" y2="415.2" stroke="#050505" stroke-width="1.2" />
<line x1="567.4" y1="407.7" x2="577.4" y2="407.7" stroke="#050505" stroke-width="1.2" stroke-dasharray="1.5,1.5"/>
<line x1="572.4" y1="402.7" x2="572.4" y2="412.7" stroke="#050505" stroke-width="1.2" stroke-dasharray="1.5,1.5"/>
<circle cx="315.6" cy="407.7" r="10.3" fill="#0a0a0a"/>
<circle cx="315.6" cy="407.7" r="7.21" fill="#5e5e5e"/>
<circle cx="315.6" cy="407.7" r="5.768000000000001" fill="#2e2e2e"/>
<polygon points="315.6,412.0 311.9,409.9 311.9,405.5 315.6,403.4 319.3,405.5 319.3,409.9" fill="#151515" stroke="#7a7a7a" stroke-width="0.8"/>
<circle cx="315.6" cy="407.7" r="2.472" fill="#5a5a5a"/>
<circle cx="315.6" cy="408.318" r="1.133" fill="#c0c0c0"/>
<circle cx="391.7" cy="407.7" r="10.3" fill="#0a0a0a"/>
<circle cx="391.7" cy="407.7" r="7.21" fill="#5e5e5e"/>
<circle cx="391.7" cy="407.7" r="5.768000000000001" fill="#2e2e2e"/>
<polygon points="391.7,412.0 388.0,409.9 388.0,405.5 391.7,403.4 395.4,405.5 395.4,409.9" fill="#151515" stroke="#7a7a7a" stroke-width="0.8"/>
<circle cx="391.7" cy="407.7" r="2.472" fill="#5a5a5a"/>
<circle cx="391.7" cy="408.318" r="1.133" fill="#c0c0c0"/>
<circle cx="470.2" cy="407.7" r="10.3" fill="#0a0a0a"/>
<circle cx="470.2" cy="407.7" r="7.21" fill="#5e5e5e"/>
<circle cx="470.2" cy="407.7" r="5.768000000000001" fill="#2e2e2e"/>
<polygon points="470.2,412.0 466.5,409.9 466.5,405.5 470.2,403.4 473.9,405.5 473.9,409.9" fill="#151515" stroke="#7a7a7a" stroke-width="0.8"/>
<circle cx="470.2" cy="407.7" r="2.472" fill="#5a5a5a"/>
<circle cx="470.2" cy="408.318" r="1.133" fill="#c0c0c0"/>
<circle cx="546.2" cy="407.7" r="10.3" fill="#0a0a0a"/>
<circle cx="546.2" cy="407.7" r="7.21" fill="#5e5e5e"/>
<circle cx="546.2" cy="407.7" r="5.768000000000001" fill="#2e2e2e"/>
<polygon points="546.2,412.0 542.5,409.9 542.5,405.5 546.2,403.4 549.9,405.5 549.9,409.9" fill="#151515" stroke="#7a7a7a" stroke-width="0.8"/>
<circle cx="546.2" cy="407.7" r="2.472" fill="#5a5a5a"/>
<circle cx="546.2" cy="408.318" r="1.133" fill="#c0c0c0"/>
<circle cx="289.6" cy="490" r="5" fill="#262626" stroke="#050505" stroke-width="1.9"/>
<line x1="282.1" y1="490" x2="284.6" y2="490" stroke="#050505" stroke-width="1.2" />
<line x1="294.6" y1="490" x2="297.1" y2="490" stroke="#050505" stroke-width="1.2" />
<line x1="289.6" y1="482.5" x2="289.6" y2="485" stroke="#050505" stroke-width="1.2" />
<line x1="289.6" y1="495" x2="289.6" y2="497.5" stroke="#050505" stroke-width="1.2" />
<line x1="284.6" y1="490" x2="294.6" y2="490" stroke="#050505" stroke-width="1.2" stroke-dasharray="1.5,1.5"/>
<line x1="289.6" y1="485" x2="289.6" y2="495" stroke="#050505" stroke-width="1.2" stroke-dasharray="1.5,1.5"/>
<circle cx="430.8" cy="490" r="5" fill="#262626" stroke="#050505" stroke-width="1.9"/>
<line x1="423.3" y1="490" x2="425.8" y2="490" stroke="#050505" stroke-width="1.2" />
<line x1="435.8" y1="490" x2="438.3" y2="490" stroke="#050505" stroke-width="1.2" />
<line x1="430.8" y1="482.5" x2="430.8" y2="485" stroke="#050505" stroke-width="1.2" />
<line x1="430.8" y1="495" x2="430.8" y2="497.5" stroke="#050505" stroke-width="1.2" />
<line x1="425.8" y1="490" x2="435.8" y2="490" stroke="#050505" stroke-width="1.2" stroke-dasharray="1.5,1.5"/>
<line x1="430.8" y1="485" x2="430.8" y2="495" stroke="#050505" stroke-width="1.2" stroke-dasharray="1.5,1.5"/>
<circle cx="572.4" cy="490" r="5" fill="#262626" stroke="#050505" stroke-width="1.9"/>
<line x1="564.9" y1="490" x2="567.4" y2="490" stroke="#050505" stroke-width="1.2" />
<line x1="577.4" y1="490" x2="579.9" y2="490" stroke="#050505" stroke-width="1.2" />
<line x1="572.4" y1="482.5" x2="572.4" y2="485" stroke="#050505" stroke-width="1.2" />
<line x1="572.4" y1="495" x2="572.4" y2="497.5" stroke="#050505" stroke-width="1.2" />
<line x1="567.4" y1="490" x2="577.4" y2="490" stroke="#050505" stroke-width="1.2" stroke-dasharray="1.5,1.5"/>
<line x1="572.4" y1="485" x2="572.4" y2="495" stroke="#050505" stroke-width="1.2" stroke-dasharray="1.5,1.5"/>
<circle cx="315.6" cy="490" r="10.3" fill="#0a0a0a"/>
<circle cx="315.6" cy="490" r="7.21" fill="#5e5e5e"/>
<circle cx="315.6" cy="490" r="5.768000000000001" fill="#2e2e2e"/>
<polygon points="315.6,494.3 311.9,492.2 311.9,487.8 315.6,485.7 319.3,487.8 319.3,492.2" fill="#151515" stroke="#7a7a7a" stroke-width="0.8"/>
<circle cx="315.6" cy="490" r="2.472" fill="#5a5a5a"/>
<circle cx="315.6" cy="490.618" r="1.133" fill="#c0c0c0"/>
<circle cx="391.7" cy="490" r="10.3" fill="#0a0a0a"/>
<circle cx="391.7" cy="490" r="7.21" fill="#5e5e5e"/>
<circle cx="391.7" cy="490" r="5.768000000000001" fill="#2e2e2e"/>
<polygon points="391.7,494.3 388.0,492.2 388.0,487.8 391.7,485.7 395.4,487.8 395.4,492.2" fill="#151515" stroke="#7a7a7a" stroke-width="0.8"/>
<circle cx="391.7" cy="490" r="2.472" fill="#5a5a5a"/>
<circle cx="391.7" cy="490.618" r="1.133" fill="#c0c0c0"/>
<circle cx="470.2" cy="490" r="10.3" fill="#0a0a0a"/>
<circle cx="470.2" cy="490" r="7.21" fill="#5e5e5e"/>
<circle cx="470.2" cy="490" r="5.768000000000001" fill="#2e2e2e"/>
<polygon points="470.2,494.3 466.5,492.2 466.5,487.8 470.2,485.7 473.9,487.8 473.9,492.2" fill="#151515" stroke="#7a7a7a" stroke-width="0.8"/>
<circle cx="470.2" cy="490" r="2.472" fill="#5a5a5a"/>
<circle cx="470.2" cy="490.618" r="1.133" fill="#c0c0c0"/>
<circle cx="546.2" cy="490" r="10.3" fill="#0a0a0a"/>
<circle cx="546.2" cy="490" r="7.21" fill="#5e5e5e"/>
<circle cx="546.2" cy="490" r="5.768000000000001" fill="#2e2e2e"/>
<polygon points="546.2,494.3 542.5,492.2 542.5,487.8 546.2,485.7 549.9,487.8 549.9,492.2" fill="#151515" stroke="#7a7a7a" stroke-width="0.8"/>
<circle cx="546.2" cy="490" r="2.472" fill="#5a5a5a"/>
<circle cx="546.2" cy="490.618" r="1.133" fill="#c0c0c0"/>
<line x1="623" y1="407.5" x2="665.8" y2="407.5" stroke="#111" stroke-width="1" />
<line x1="586" y1="489.9" x2="665.8" y2="489.9" stroke="#111" stroke-width="1" />
<line x1="661.7" y1="407.5" x2="661.7" y2="489.9" stroke="#333" stroke-width="1" />
<polygon points="660.95,407.50 660.30,410.50 659.95,415.90 660.55,416.70 662.85,416.70 663.45,415.90 663.10,410.50 662.45,407.50" fill="#0a0a0a"/>
<polygon points="660.95,489.90 660.30,486.90 659.95,481.50 660.55,480.70 662.85,480.70 663.45,481.50 663.10,486.90 662.45,489.90" fill="#0a0a0a"/>
<text x="0" y="0" font-size="10" fill="#1b1b2b" text-anchor="middle" dominant-baseline="central" transform="translate(651.8,448.7) rotate(-90)" >F</text>
<line x1="276.2" y1="316.9" x2="276.2" y2="381.3" stroke="#111" stroke-width="1" />
<line x1="585.8" y1="316.9" x2="585.8" y2="381.3" stroke="#111" stroke-width="1" />
<line x1="276.2" y1="321.8" x2="585.8" y2="321.8" stroke="#333" stroke-width="1" />
<polygon points="276.20,321.05 279.20,320.40 284.60,320.05 285.40,320.65 285.40,322.95 284.60,323.55 279.20,323.20 276.20,322.55" fill="#0a0a0a"/>
<polygon points="585.80,321.05 582.80,320.40 577.40,320.05 576.60,320.65 576.60,322.95 577.40,323.55 582.80,323.20 585.80,322.55" fill="#0a0a0a"/>
<text x="431.9" y="312.4" font-size="10" fill="#1b1b2b" text-anchor="middle" dominant-baseline="central" >D</text>
<line x1="289.6" y1="348.3" x2="289.6" y2="407.5" stroke="#111" stroke-width="1" />
<line x1="430.8" y1="348.3" x2="430.8" y2="407.5" stroke="#111" stroke-width="1" />
<line x1="572.4" y1="348.3" x2="572.4" y2="407.5" stroke="#111" stroke-width="1" />
<line x1="289.7" y1="353.3" x2="430.8" y2="353.3" stroke="#333" stroke-width="1" />
<polygon points="289.70,352.55 292.70,351.90 298.10,351.55 298.90,352.15 298.90,354.45 298.10,355.05 292.70,354.70 289.70,354.05" fill="#0a0a0a"/>
<polygon points="430.80,352.55 427.80,351.90 422.40,351.55 421.60,352.15 421.60,354.45 422.40,355.05 427.80,354.70 430.80,354.05" fill="#0a0a0a"/>
<line x1="430.8" y1="353.3" x2="572.4" y2="353.3" stroke="#333" stroke-width="1" />
<polygon points="430.80,352.55 433.80,351.90 439.20,351.55 440.00,352.15 440.00,354.45 439.20,355.05 433.80,354.70 430.80,354.05" fill="#0a0a0a"/>
<polygon points="572.40,352.55 569.40,351.90 564.00,351.55 563.20,352.15 563.20,354.45 564.00,355.05 569.40,354.70 572.40,354.05" fill="#0a0a0a"/>
<text x="360.5" y="344.5" font-size="10" fill="#1b1b2b" text-anchor="middle" dominant-baseline="central" >E</text>
<text x="501.8" y="344.5" font-size="10" fill="#1b1b2b" text-anchor="middle" dominant-baseline="central" >E</text>
<line x1="137.9" y1="374.9" x2="137.9" y2="477" stroke="#333" stroke-width="1" />
<circle cx="137.9" cy="416.7" r="1.8" fill="#111"/>
<circle cx="137.9" cy="471" r="1.8" fill="#111"/>
<text x="0" y="0" font-size="10" fill="#1b1b2b" text-anchor="middle" dominant-baseline="central" transform="translate(128.1,386.6) rotate(-90)" >Q</text>
</svg>
</body></html>
